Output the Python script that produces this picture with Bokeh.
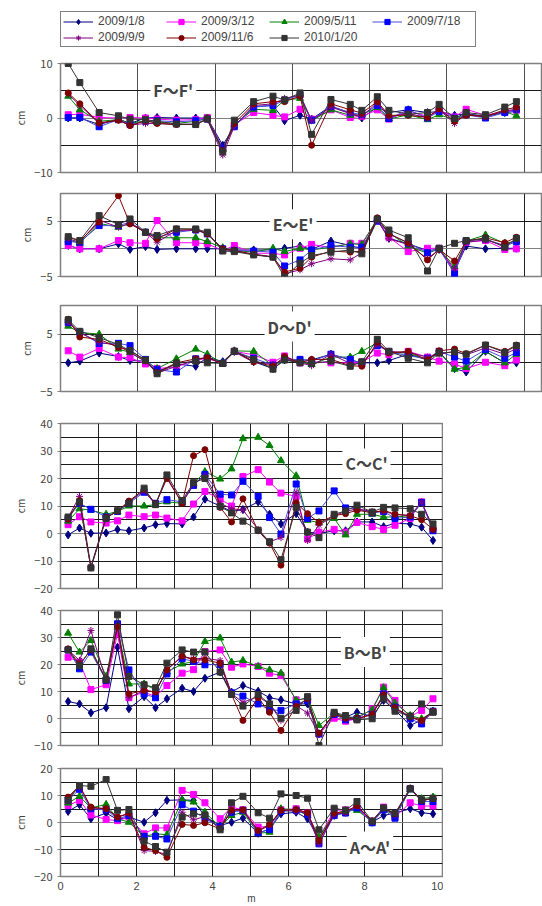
from bokeh.plotting import figure
from bokeh.layouts import column
from bokeh.models import Range1d, FixedTicker, Label, Legend, LegendItem, Grid
from bokeh.embed import file_html
from bokeh.resources import INLINE

DATES = ["2009/1/8", "2009/3/12", "2009/5/11", "2009/7/18", "2009/9/9", "2009/11/6", "2010/1/20"]

X_TOP = [0.2, 0.5, 1.0, 1.5, 1.8, 2.2, 2.5, 3.0, 3.5, 3.8, 4.2, 4.5, 5.0, 5.5, 5.8,
         6.2, 6.5, 7.0, 7.5, 7.8, 8.2, 8.5, 9.0, 9.5, 9.8, 10.2, 10.5, 11.0, 11.5, 11.8]
X_BOT = [0.2, 0.5, 0.8, 1.2, 1.5, 1.8, 2.2, 2.5, 2.8, 3.2, 3.5, 3.8, 4.2, 4.5, 4.8,
         5.2, 5.5, 5.8, 6.2, 6.5, 6.8, 7.2, 7.5, 7.8, 8.2, 8.5, 8.8, 9.2, 9.5, 9.8]

# series 1..7 follow DATES order
F1 = [0, 0, -1.2, -0.2, -1.0, 0.0, 0.1, 0.0, 0.0, 0.0, -5.0, -1.5, 2.1, 2.3, -0.5, 0.5, -0.2, 2.2, 0.9, 0.0, 2.0, 1.0, 1.5, 1.0, 1.2, 0.5, 0.8, 0.3, 1.0, 1.2]
F2 = [0.6, 0.7, 0.1, 0.0, 0.1, 0.0, -0.2, -0.4, -0.3, 0.1, -5.6, -1.2, 1.0, 0.5, 0.2, 1.6, -0.2, 1.5, 0.1, 0.3, 1.5, -0.2, 1.3, 0.3, 1.4, 0.2, 1.6, 0.5, 1.2, 1.4]
F3 = [4.0, 1.5, -0.6, -0.3, -1.0, -0.5, -0.8, -1.0, -0.6, 0.0, -5.8, -1.3, 1.6, 1.4, 3.3, 3.6, -0.5, 1.5, 0.5, 0.6, 1.9, -0.2, 0.6, -0.3, 0.6, -0.3, 0.6, 0.3, 1.2, 0.4]
F4 = [0.1, 0.1, -1.6, -0.3, -1.2, -0.6, -0.5, -0.7, -0.5, -0.2, -5.5, -1.6, 2.0, 2.3, 3.3, 4.2, -0.4, 2.1, 1.0, 0.6, 2.3, -0.1, 1.5, 0.0, 1.2, 0.0, 0.6, 0.0, 1.0, 1.6]
F5 = [4.4, 2.3, -1.0, -0.4, -1.3, -1.0, -1.0, -1.2, -1.1, -0.3, -6.8, -1.5, 2.3, 2.6, 3.6, 4.2, -0.5, 2.0, 0.8, 0.3, 2.8, 0.2, 0.8, 0.1, 1.5, -1.0, 0.7, 0.2, 1.3, 1.6]
F6 = [4.6, 2.6, -0.9, -0.4, -1.4, -0.5, -1.0, -1.2, -1.2, -0.1, -6.0, -1.0, 2.6, 3.0, 3.0, 4.0, -5.0, 2.6, 1.5, 0.9, 3.0, 0.5, 0.5, 0.1, 1.7, -0.6, 0.5, 0.3, 1.5, 2.0]
F7 = [10.0, 6.5, 1.0, 0.4, -0.2, -0.3, -0.6, -1.1, -1.2, -0.2, -6.2, -0.4, 3.0, 4.0, 3.3, 4.6, -3.0, 3.4, 2.5, 1.4, 3.9, 1.4, 0.7, 1.0, 2.5, -0.1, 1.0, 0.6, 2.0, 3.0]

E1 = [0.6, 0, 0, 0.9, -0.1, 0.4, -0.1, 0, 0, 0, 0, -0.2, -0.2, -0.2, 0.1, 0.5, -0.1, 1.4, 0.6, 0.0, 5.3, 1.9, 0.9, -0.3, -0.1, -4.0, 0.5, 0.0, 0.1, 0.1]
E2 = [0.6, 0, 0, 1.5, 1.1, 1.0, 5.1, 1.1, 1.1, 0.9, -0.3, 0.6, -0.8, -0.8, -1.1, 0.1, 0.8, 0.2, 1.0, 1.0, 5.2, 2.1, -0.5, 0.1, 0.1, -4.2, 1.2, 1.5, -0.1, 0.0]
E3 = [1.6, 1.0, 4.6, 3.9, 4.6, 3.0, 2.0, 2.0, 2.0, 1.3, 0.2, -0.3, -0.6, 0.1, -0.5, 0.1, -0.2, 0.3, 0.9, 0.8, 5.4, 2.9, 0.5, -0.8, 0, -3.2, 1.4, 2.5, 1.0, 1.4]
E4 = [1.3, 1.2, 4.2, 4.2, 4.8, 3.0, 2.1, 3.0, 3.4, 2.7, 0, -0.3, -0.4, -0.6, -3.1, -2.0, -0.2, 0.6, 0.3, 0.3, 5.0, 2.8, 1.0, -0.7, 0, -4.5, 1.4, 1.8, 0.5, 1.3]
E5 = [1.8, 1.2, 5.2, 3.9, 4.6, 3.0, 1.2, 3.3, 3.4, 2.8, -0.2, -0.3, -1.0, -1.4, -4.5, -3.8, -2.7, -1.8, -2.0, -0.7, 5.2, 1.8, 0.8, -1.8, -0.1, -3.6, 1.2, 1.6, 0.6, 1.7]
E6 = [2.1, 1.4, 4.8, 9.6, 4.5, 3.0, 1.8, 3.6, 3.5, 2.7, 0.0, -0.3, -1.0, -1.5, -4.2, -3.5, -1.5, -0.4, -0.6, -0.4, 5.6, 2.7, 1.1, -2.0, -0.1, -2.2, 1.4, 2.0, 1.1, 2.1]
E7 = [2.2, 1.5, 6.0, 4.4, 5.4, 3.0, 2.4, 3.6, 3.6, 3.0, -0.4, -0.5, -1.1, -1.5, -5.1, -2.6, -1.2, -0.6, -0.2, -0.9, 5.4, 3.4, 2.0, -4.0, 0.1, 1.0, 1.5, 1.8, 0.3, 1.9]

D1 = [0, 0.3, 1.7, 1.1, 0.4, 0.3, -1.5, -0.2, -0.6, 1.0, 0.2, 2.0, 0.2, -1.0, 0.5, 0.5, 0.5, 1.5, 0.5, 0.0, 0.0, 0.4, 1.5, 0.5, 1.9, -1.0, -1.6, 2.0, 0.0, 0.0]
D2 = [2.1, 1.0, 2.5, 1.0, 0.9, -0.2, -1.0, -0.7, 0.5, 0.8, -0.1, 2.0, 1.4, 0.1, 1.2, 0.0, 0.2, 0.0, 0.0, 0.1, 1.7, 1.4, 2.0, 1.0, 0.3, -0.2, -1.0, 0.1, -0.5, 0.5]
D3 = [6.4, 5.3, 5.0, 2.4, 1.8, 0.3, -1.0, 0.7, 2.4, 1.5, -0.1, 2.1, 2.0, -0.5, 0.4, 0.3, -0.3, 1.0, 1.0, 2.0, 3.5, 1.8, 1.7, 0.5, 1.8, -1.1, -0.8, 2.0, 0.0, 1.5]
D4 = [7.0, 5.3, 3.4, 3.4, 3.0, 0.6, -1.2, -1.6, 0.7, 0.8, -0.1, 2.0, 0.8, -0.4, 0.6, 0.6, 0.3, 1.5, 0.6, -0.1, 3.0, 2.0, 1.2, 0.8, 2.0, 1.0, 0.3, 2.3, 0.8, 1.8]
D5 = [7.0, 5.3, 3.6, 3.0, 1.8, 0.2, -1.8, -0.6, 0.5, 0.9, -0.1, 1.9, 0.1, -0.3, 0.7, 0.0, -0.5, 1.5, -0.1, -0.2, 3.2, 2.0, 1.8, 1.0, 1.5, 2.0, 1.4, 2.6, 1.5, 2.5]
D6 = [7.6, 4.5, 4.1, 2.7, 2.2, 0.4, -1.7, 0.0, 0.7, 0.9, -0.1, 2.1, 0.2, -0.6, 1.1, 0.0, 0.6, 0.6, -0.5, -0.6, 3.6, 1.7, 2.0, 0.5, 2.1, 2.4, 1.6, 3.1, 2.0, 3.1]
D7 = [7.5, 5.5, 4.4, 3.2, 2.1, 0.5, -1.9, -0.1, 0.3, 0.0, -0.1, 2.0, 0.6, -1.1, 0.5, 0.0, -0.1, 0.3, -0.6, 0.2, 4.1, 2.0, 0.8, 0.0, 1.7, 1.9, 1.5, 3.1, 1.8, 3.0]

C1 = [-0.5, 2.0, 0.1, 0.2, 1.5, 1.0, 2.0, 3.2, 3.6, 3.5, 6.0, 12.5, 10.0, 8.0, 8.7, 11.5, 7.0, 3.5, 7.2, 0.5, 0.0, 1.0, 1.0, 4.2, 4.2, 2.5, 3.7, 3.5, 2.3, -2.5]
C2 = [3.2, 6.1, 4.2, 3.8, 4.6, 6.7, 6.1, 6.7, 5.6, 4.6, 10.7, 15.3, 12.5, 10.0, 20.7, 23.2, 18.7, 14.7, 13.5, -2.0, 0.5, 1.5, 0.5, 4.0, 2.5, 1.5, 3.0, 5.5, 11.5, 1.5]
C3 = [4.5, 9.0, 8.5, 7.0, 8.0, 10.0, 10.0, 10.5, 11.5, 11.0, 18.0, 22.5, 19.8, 23.5, 34.5, 35.0, 32.0, 26.5, 21.0, 4.8, 4.0, 5.5, -0.5, 7.0, 7.0, 6.0, 6.0, 6.5, 11.0, 2.5]
C4 = [5.5, 11.0, 8.8, 6.0, 8.0, 11.0, 15.0, 11.0, 12.3, 11.5, 17.5, 21.5, 14.3, 14.0, 19.0, 13.5, 5.8, -0.2, 18.0, 5.5, 8.2, 15.5, 9.3, 9.0, 7.5, 8.0, 5.5, 6.0, 11.3, 1.0]
C5 = [5.8, 13.5, -12.0, 6.0, 8.0, 11.5, 15.5, 10.5, 20.5, 11.0, 18.0, 21.0, 11.0, 9.0, 8.5, 1.5, -3.0, -1.5, 15.0, -2.5, 3.0, 6.5, 8.0, 9.0, 8.0, 8.0, 7.0, 6.5, 11.5, 2.0]
C6 = [5.2, 12.0, -12.5, 5.8, 8.2, 11.8, 16.0, 10.8, 20.0, 11.0, 28.3, 30.5, 9.5, 4.2, 12.6, 1.0, -3.5, -11.5, 11.2, 7.2, 4.0, 6.5, 7.2, 8.5, 7.5, 8.5, 7.0, 6.5, 5.0, 1.5]
C7 = [6.0, 11.5, -12.5, 5.5, 8.3, 11.0, 16.5, 10.5, 21.3, 12.0, 18.5, 20.0, 9.8, 7.5, 4.5, 1.2, -3.0, -9.5, 9.5, 0.5, -1.5, 7.0, 8.2, 10.3, 7.8, 9.5, 9.3, 9.0, 7.0, 3.5]

B1 = [6.3, 5.4, 2.1, 4.0, 26.4, 3.6, 8.1, 4.0, 7.3, 11.2, 10.0, 14.9, 17.2, 9.8, 12.2, 10.1, 7.7, 6.9, 5.4, 5.4, -5.7, 2.0, 0.5, 2.3, 0.7, 6.7, 3.2, -2.6, -0.5, 2.7]
B2 = [22.7, 20.9, 10.7, 12.5, 31.4, 7.7, 9.8, 8.1, 12.2, 16.8, 18.1, 24.8, 25.4, 19.0, 20.2, 19.3, 16.8, 15.9, 6.9, 7.3, -5.7, 0.1, -1.0, -0.1, 3.6, 11.6, 6.7, 0.7, 3.0, 7.3]
B3 = [31.6, 24.6, 28.9, 15.6, 33.8, 12.8, 12.8, 10.6, 17.2, 20.2, 21.1, 28.5, 29.8, 20.9, 21.5, 19.3, 18.0, 16.8, 6.7, 7.7, -2.6, 2.0, 0.5, 0.5, 3.2, 11.4, 5.7, 1.1, -0.1, 2.3]
B4 = [25.4, 18.4, 24.6, 14.1, 35.1, 18.0, 9.1, 7.7, 16.5, 22.1, 21.2, 19.9, 20.0, 9.5, 8.3, 5.4, 3.2, 3.0, 5.4, 6.7, -5.7, 1.5, -0.5, -0.1, 1.5, 9.1, 4.2, -0.1, -2.0, 2.7]
B5 = [25.4, 21.5, 32.6, 14.1, 33.8, 7.7, 10.4, 9.8, 18.0, 23.1, 22.1, 22.3, 21.5, 9.1, 6.0, 8.1, 5.4, -0.7, 4.8, 2.0, -5.7, 2.0, -0.1, -0.5, 2.0, 8.1, 3.6, 0.5, -1.1, 2.3]
B6 = [25.8, 20.0, 25.4, 14.3, 34.1, 9.1, 10.4, 9.8, 18.0, 23.1, 21.7, 21.7, 20.5, 8.9, -0.7, 7.7, 2.3, -4.4, 4.4, 7.3, -5.4, 1.7, 0.1, 0.1, 1.4, 8.8, 4.0, 0.7, -0.7, 2.7]
B7 = [25.4, 19.5, 25.8, 14.3, 38.4, 15.6, 12.5, 11.4, 20.5, 25.4, 24.6, 24.6, 17.2, 8.9, 4.6, 8.9, 5.4, 0.1, 3.0, 8.1, -10.0, 2.3, 1.1, -0.5, -0.1, 7.3, 2.7, 0.9, 5.4, 2.3]

A1 = [4.1, 6.6, 1.4, 3.5, 1.1, 2.0, 0.1, 3.6, 8.2, 8.4, 8.2, 2.2, -1.1, 0.1, 1.6, -4.0, -2.4, 3.2, 3.8, 1.4, -6.4, 2.6, 3.8, 5.7, 0.1, 2.6, 3.5, 5.1, 3.6, 3.2]
A2 = [6.3, 8.2, 2.8, 1.1, 0.7, 2.0, -4.2, -2.0, -2.0, 11.9, 10.4, 7.3, 1.4, 5.7, 4.7, -1.7, -1.5, 4.7, 5.1, 3.5, -5.7, 4.5, 4.7, 5.4, 0.5, 5.7, 2.0, 7.3, 6.1, 6.1]
A3 = [7.2, 9.7, 5.4, 6.7, 1.4, 0.1, -5.2, -4.2, -4.5, 8.4, 7.6, 3.8, -1.7, 2.6, 3.8, -4.0, -3.6, 5.1, 4.7, 2.6, -5.4, 3.2, 4.5, 4.5, 0.4, 4.7, 2.8, 12.1, 8.8, 9.4]
A4 = [8.2, 12.3, 5.1, 4.7, 1.4, 2.6, -5.2, -5.1, -6.1, 6.6, 4.2, 1.4, -1.5, 3.8, 4.5, -3.8, -2.6, 4.1, 4.5, 3.0, -7.9, 2.6, 3.5, 5.4, -0.1, 4.7, 1.6, 12.5, 7.8, 7.8]
A5 = [9.2, 13.4, 5.4, 5.1, 2.0, 3.2, -10.4, -10.7, -11.9, 3.8, 1.0, 2.2, -2.0, 4.7, 4.5, -3.2, -1.1, 4.5, 4.2, 3.5, -7.9, 3.0, 3.8, 6.3, 0.5, 5.4, 2.8, 12.9, 8.2, 8.8]
A6 = [9.4, 13.7, 5.7, 5.1, 2.0, 3.5, -9.2, -10.4, -12.9, -0.7, -1.1, -0.1, -2.4, 4.5, 4.7, -3.0, -0.7, 4.5, 4.8, 3.6, -6.7, 3.5, 4.1, 6.1, 0.5, 5.4, 3.2, 12.5, 8.2, 8.8]
A7 = [8.2, 13.7, 13.4, 15.9, 4.5, 4.8, -6.9, -8.9, -11.0, 2.0, 3.2, 2.8, -2.7, 7.3, 9.7, 3.6, 1.6, 10.6, 10.0, 9.0, -2.7, 5.3, 4.5, 7.8, 0.5, 5.4, 3.5, 12.5, 8.4, 9.0]

FONT = "Noto Sans CJK JP"
LEG_FONT = "Liberation Sans"

STYLES = [
    dict(color="#000080", line="#000080", marker="diamond", size=8),
    dict(color="#FF00FF", line="#FF00FF", marker="square", size=6),
    dict(color="#008000", line="#008000", marker="triangle", size=7),
    dict(color="#0000FF", line="#4a4ad8", marker="square", size=6),
    dict(color="#800080", line="#800080", marker="asterisk", size=7),
    dict(color="#800000", line="#800000", marker="circle", size=6),
    dict(color="#333333", line="#333333", marker="square", size=6),
]


def draw_series(p, xs, series):
    rs = []
    for ys, st in zip(series, STYLES):
        r1 = p.line(xs, ys, line_color=st["line"], line_width=1)
        r2 = p.scatter(xs, ys, marker=st["marker"], size=st["size"],
                       fill_color=st["color"], line_color=st["color"], line_width=1)
        rs.append((r1, r2))
    return rs


def make_panel(title, tx, ty, xs, series, x_end, y0, y1, yticks, hdark, hlight,
               vgrid, vcolor, width, top, frame_h, bottom, right, show_x=False):
    p = figure(width=width, height=top + frame_h + bottom,
               x_range=Range1d(0, x_end), y_range=Range1d(y0, y1),
               output_backend="svg", toolbar_location=None,
               min_border_left=52, min_border_right=right,
               min_border_top=top, min_border_bottom=bottom)
    p.outline_line_color = "#808080"
    p.outline_line_width = 1.5
    p.xgrid.ticker = FixedTicker(ticks=vgrid)
    p.xgrid.grid_line_color = vcolor
    p.xgrid.grid_line_width = 1
    p.ygrid.ticker = FixedTicker(ticks=hdark)
    p.ygrid.grid_line_color = "#1a1a1a"
    p.ygrid.grid_line_width = 1
    if hlight:
        p.add_layout(Grid(dimension=1, ticker=FixedTicker(ticks=hlight),
                          grid_line_color="#808080", grid_line_width=1.2))
    ya = p.yaxis[0]
    ya.ticker = FixedTicker(ticks=yticks)
    ya.axis_label = "cm"
    ya.axis_label_text_font = FONT
    ya.axis_label_text_font_size = "10px"
    ya.axis_label_text_font_style = "normal"
    ya.axis_label_standoff = 3
    ya.major_label_text_font = FONT
    ya.major_label_text_font_size = "11px"
    ya.major_label_standoff = 5
    ya.major_tick_out = 3
    ya.major_tick_in = 0
    ya.minor_tick_line_color = None
    ya.axis_line_color = "#808080"
    ya.major_tick_line_color = "#808080"
    xa = p.xaxis[0]
    if show_x:
        xa.ticker = FixedTicker(ticks=[0, 2, 4, 6, 8, 10])
        xa.major_label_text_font = LEG_FONT
        xa.major_label_text_font_size = "11px"
        xa.major_label_standoff = 5
        xa.major_tick_line_color = None
        xa.major_tick_out = 0
        xa.minor_tick_line_color = None
        xa.axis_line_color = None
        xa.axis_label = "m"
        xa.axis_label_text_font = LEG_FONT
        xa.axis_label_text_font_size = "10px"
        xa.axis_label_text_font_style = "normal"
        xa.axis_label_standoff = 0
    else:
        xa.visible = False
    draw_series(p, xs, series)
    p.add_layout(Label(x=tx, y=ty, text=title, text_font=FONT,
                       text_font_size="16px", text_font_style="bold",
                       text_align="center", text_baseline="middle",
                       background_fill_color="white", padding=3))
    return p


# legend figure: the renderers use real series but the ranges keep them off-frame
lf = figure(width=542, height=50, x_range=Range1d(100, 101), y_range=Range1d(100, 101),
            output_backend="svg", toolbar_location=None,
            x_axis_location=None, y_axis_location=None,
            min_border_left=60, min_border_top=11, min_border_right=0, min_border_bottom=0)
lf.grid.visible = False
lf.outline_line_color = None
leg_rs = draw_series(lf, X_TOP, [F1, F2, F3, F4, F5, F6, F7])
items = [LegendItem(label=d, renderers=list(rr)) for d, rr in zip(DATES, leg_rs)]
order = [0, 4, 1, 5, 2, 6, 3]  # column-major fill -> row-major reading
items = [items[i] for i in order]
leg = Legend(items=items, ncols=4, location="top_left",
             label_text_font=LEG_FONT, label_text_font_size="12px",
             glyph_width=30, glyph_height=13, label_height=13, label_width=66,
             label_standoff=5, spacing=2, padding=2, margin=0,
             border_line_color="black", border_line_width=1,
             background_fill_color="white")
lf.add_layout(leg, "center")

TOPV = [2, 4, 6, 8, 10, 12]
BOTV = [1, 2, 3, 4, 5, 6, 7, 8, 9]

pF = make_panel("F～F'", 2.92, 5.17, X_TOP, [F1, F2, F3, F4, F5, F6, F7], 12.45,
                -10, 10, [-10, 0, 10], [-5, 5], [0], TOPV, "#505050",
                542, 13, 109, 10, 0)
pE = make_panel("E～E'", 6.02, 4.45, X_TOP, [E1, E2, E3, E4, E5, E6, E7], 12.45,
                -5, 10, [-5, 5], [5], [0], TOPV, "#202020",
                542, 11, 83, 14, 0)
pD = make_panel("D～D'", 5.93, 6.32, X_TOP, [D1, D2, D3, D4, D5, D6, D7], 12.45,
                -5, 10, [-5, 5], [0, 5], [], TOPV, "#505050",
                542, 15, 86, 9, 0)
pC = make_panel("C～C'", 8.05, 25.5, X_BOT, [C1, C2, C3, C4, C5, C6, C7], 10.05,
                -20, 40, [-20, -10, 0, 10, 20, 30, 40],
                [-15, -10, -5, 5, 10, 15, 20, 25, 30, 35], [0], BOTV, "#202020",
                443, 23, 165, 9, 1)
pB = make_panel("B～B'", 8.02, 24.6, X_BOT, [B1, B2, B3, B4, B5, B6, B7], 10.05,
                -10, 40, [-10, 0, 10, 20, 30, 40],
                [-5, 5, 10, 15, 20, 25, 30, 35], [0], BOTV, "#202020",
                443, 13, 135, 10, 1)
pA = make_panel("A～A'", 8.14, -8.9, X_BOT, [A1, A2, A3, A4, A5, A6, A7], 10.05,
                -20, 20, [-20, -10, 0, 10, 20],
                [-15, -10, -5, 5, 10, 15], [0], BOTV, "#202020",
                443, 13, 108, 30, 1, show_x=True)

layout = column(lf, pF, pE, pD, pC, pB, pA, spacing=0)

open("out.html", "w").write(file_html(layout, INLINE))
